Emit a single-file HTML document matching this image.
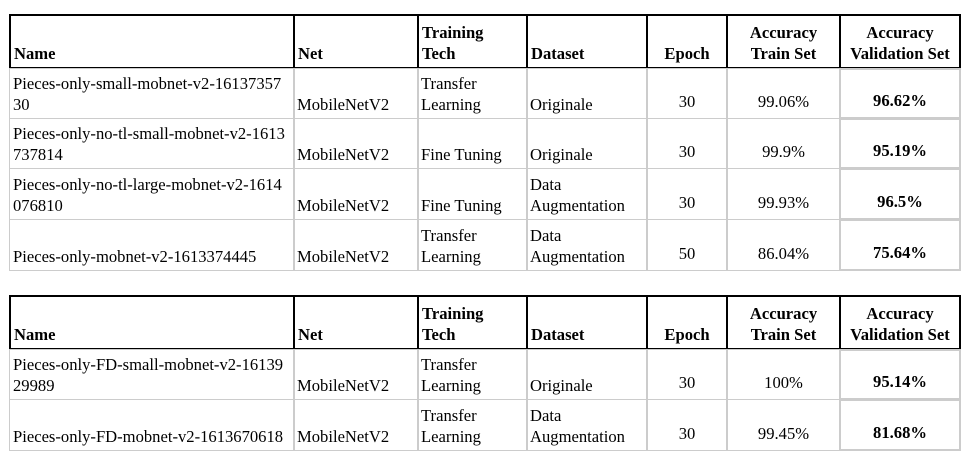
<!DOCTYPE html>
<html><head><meta charset="utf-8"><style>
body{margin:0;width:973px;height:462px;background:#fff;position:relative;overflow:hidden}
.r{position:absolute;left:0;width:973px}
.c{position:absolute;top:0;height:100%;box-sizing:border-box;display:flex;align-items:flex-end;padding:0 3px 3px 3px;font-family:"Liberation Serif",serif;font-size:16.6px;line-height:21px;color:#000;white-space:nowrap}
.h .c{border:2px solid #000;font-weight:bold;padding-left:3px}
.b .c{border:1px solid #ccc}
.b .k7{border:2px solid #ccc}
.k1{left:9px;width:286px}
.k2{left:293px;width:126px}
.k3{left:417px;width:111px}
.k4{left:526px;width:122px}
.k5{left:646px;width:82px;justify-content:center;text-align:center}
.k6{left:726px;width:115px;justify-content:center;text-align:center}
.k7{left:839px;width:122px;justify-content:center;text-align:center;font-weight:bold}
.b .k5,.b .k6,.b .k7{padding-bottom:6px}
</style></head><body>

<div class="r h" style="top:14px;height:55px">
<div class="c k1">Name</div><div class="c k2">Net</div><div class="c k3">Training<br>Tech</div><div class="c k4">Dataset</div><div class="c k5">Epoch</div><div class="c k6">Accuracy<br>Train Set</div><div class="c k7">Accuracy<br>Validation Set</div>
</div>
<div class="r b" style="top:68px;height:51px">
<div class="c k1">Pieces-only-small-mobnet-v2-16137357<br>30</div><div class="c k2">MobileNetV2</div><div class="c k3">Transfer<br>Learning</div><div class="c k4">Originale</div><div class="c k5">30</div><div class="c k6">99.06%</div><div class="c k7">96.62%</div>
</div>
<div class="r b" style="top:118px;height:51px">
<div class="c k1">Pieces-only-no-tl-small-mobnet-v2-1613<br>737814</div><div class="c k2">MobileNetV2</div><div class="c k3">Fine Tuning</div><div class="c k4">Originale</div><div class="c k5">30</div><div class="c k6">99.9%</div><div class="c k7">95.19%</div>
</div>
<div class="r b" style="top:168px;height:52px">
<div class="c k1">Pieces-only-no-tl-large-mobnet-v2-1614<br>076810</div><div class="c k2">MobileNetV2</div><div class="c k3">Fine Tuning</div><div class="c k4">Data<br>Augmentation</div><div class="c k5">30</div><div class="c k6">99.93%</div><div class="c k7">96.5%</div>
</div>
<div class="r b" style="top:219px;height:52px">
<div class="c k1">Pieces-only-mobnet-v2-1613374445</div><div class="c k2">MobileNetV2</div><div class="c k3">Transfer<br>Learning</div><div class="c k4">Data<br>Augmentation</div><div class="c k5">50</div><div class="c k6">86.04%</div><div class="c k7">75.64%</div>
</div>

<div class="r h" style="top:295px;height:55px">
<div class="c k1">Name</div><div class="c k2">Net</div><div class="c k3">Training<br>Tech</div><div class="c k4">Dataset</div><div class="c k5">Epoch</div><div class="c k6">Accuracy<br>Train Set</div><div class="c k7">Accuracy<br>Validation Set</div>
</div>
<div class="r b" style="top:349px;height:51px">
<div class="c k1">Pieces-only-FD-small-mobnet-v2-16139<br>29989</div><div class="c k2">MobileNetV2</div><div class="c k3">Transfer<br>Learning</div><div class="c k4">Originale</div><div class="c k5">30</div><div class="c k6">100%</div><div class="c k7">95.14%</div>
</div>
<div class="r b" style="top:399px;height:52px">
<div class="c k1">Pieces-only-FD-mobnet-v2-1613670618</div><div class="c k2">MobileNetV2</div><div class="c k3">Transfer<br>Learning</div><div class="c k4">Data<br>Augmentation</div><div class="c k5">30</div><div class="c k6">99.45%</div><div class="c k7">81.68%</div>
</div>

</body></html>
